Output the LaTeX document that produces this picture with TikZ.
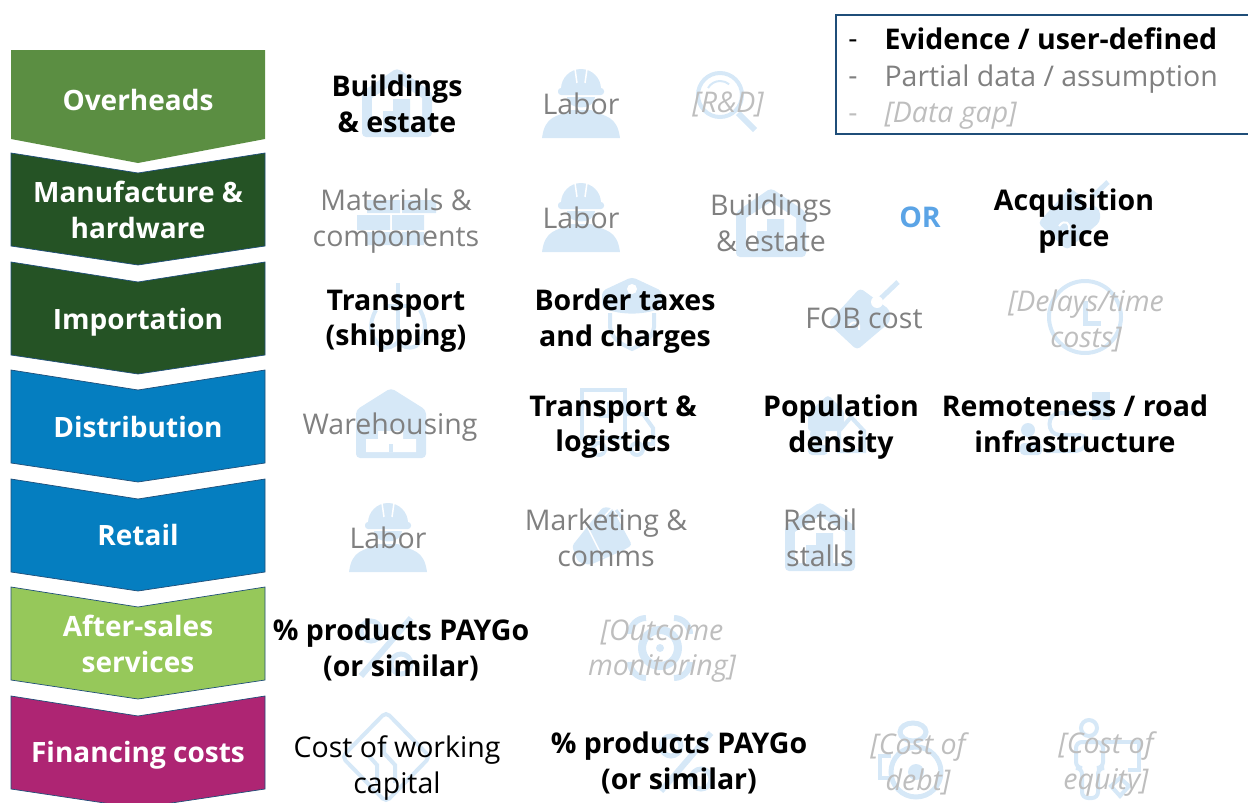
\documentclass[tikz,border=0pt]{standalone}
\usepackage{fontspec}
\setmainfont{Open Sans}
\usetikzlibrary{positioning, calc}
\definecolor{iconblue}{RGB}{214, 232, 247}
\definecolor{stagegreen}{RGB}{91, 142, 66}
\definecolor{stagedark}{RGB}{37, 83, 37}
\definecolor{stageblue}{RGB}{5, 126, 192}
\definecolor{stagelime}{RGB}{150, 200, 90}
\definecolor{stagepink}{RGB}{174, 37, 115}
\definecolor{edgeblue}{RGB}{31, 78, 121}
\definecolor{orblue}{RGB}{91, 164, 230}
\definecolor{partgrey}{RGB}{128, 128, 128}
\definecolor{gapgrey}{RGB}{190, 190, 190}
\tikzset{
  solid icon/.style={fill=iconblue, draw=none},
  line icon/.style={draw=iconblue, line width=4pt, fill=none},
  cut icon/.style={fill=white, draw=none},
  pics/iconhouse/.style={code={
    \fill[solid icon, rounded corners=4pt] (0,-35) -- (35,-11) -- (35,34) -- (-35,34) -- (-35,-11) -- cycle;
    \fill[cut icon] (0,-21) -- (25,-5) -- (25,26) -- (-25,26) -- (-25,-5) -- cycle;
    \fill[solid icon] (-14,26) -- (-14,8) -- (-4,8) -- (-4,-4) -- (13,-4) -- (13,26) -- cycle;
  }},
  pics/iconworker/.style={code={
    \fill[solid icon] (-20,-14) arc[start angle=180, end angle=360, radius=20] -- cycle;
    \fill[solid icon, rounded corners=3pt] (-23,-15) rectangle (23,-8);
    \draw[white, line width=1.5pt] (-6,-34) -- (-4,-20) (6,-34) -- (4,-20);
    \fill[solid icon] (-14,-6) -- (14,-6) .. controls (14,8) and (-14,8) .. cycle;
    \fill[solid icon] (-39,35) .. controls (-36,12) and (-24,14) .. (-10,7) -- (10,7) .. controls (24,14) and (36,12) .. (39,35) -- cycle;
  }},
  pics/iconglass/.style={code={
    \draw[line icon] (-8,-8) circle[radius=22];
    \draw[line icon, line width=2pt] (-20,-15) arc[start angle=210, end angle=310, radius=14];
    \draw[line icon, line width=6pt] (10,10) -- (27,27);
  }},
  pics/iconbricks/.style={code={
    \fill[solid icon] (-30,-22) rectangle (3,-9) (5,-22) rectangle (39,-9);
    \fill[solid icon] (-40,-7) rectangle (-7,8) (-5,-7) rectangle (27,8);
    \fill[solid icon] (-30,10) rectangle (3,23) (5,10) rectangle (27,23);
  }},
  pics/icontag/.style={code={
    \fill[solid icon, rounded corners=4pt] (-3,-28) -- (27,-6) -- (27,6) -- (-6,34) -- (-35,7) -- cycle;
    \draw[line icon, line width=5pt] (14,-14) -- (35,-34);
    \fill[cut icon] (14,-14) circle[radius=6];
    \draw[white, line width=2pt] (-14,10) .. controls (-8,2) and (-2,8) .. (-4,14);
  }},
  pics/iconship/.style={code={
    \draw[line icon] (0,-33) -- (0,26);
    \draw[line icon] (-14,-10) -- (14,-10);
    \draw[line icon] (-22,-6) .. controls (-30,8) and (-28,20) .. (-18,30) .. controls (-10,34) and (-4,30) .. (0,26) .. controls (4,30) and (10,34) .. (18,30) .. controls (28,20) and (30,8) .. (22,-6);
  }},
  pics/iconshield/.style={code={
    \fill[solid icon, rounded corners=4pt] (-30,-22) -- (0,-36) -- (30,-22) -- (30,-5) .. controls (10,2) and (-10,2) .. (-30,-5) -- cycle;
    \fill[cut icon] (0,-24) circle[radius=5];
    \draw[line icon] (-22,0) -- (-22,14) .. controls (-20,28) and (-8,32) .. (0,36) .. controls (8,32) and (20,28) .. (22,14) -- (22,0);
  }},
  pics/iconclock/.style={code={
    \draw[line icon] (0,0) circle[radius=36];
    \draw[line icon, line width=5pt] (0,-16) -- (0,6) -- (16,6);
  }},
  pics/iconstore/.style={code={
    \fill[solid icon, rounded corners=4pt] (0,-35) -- (35,-13) -- (35,35) -- (-35,35) -- (-35,-13) -- cycle;
    \fill[cut icon] (-25,16) rectangle (25,29) (-13,8) rectangle (12,16);
    \fill[solid icon] (-2,21) rectangle (2,29);
  }},
  pics/icontruck/.style={code={
    \draw[line icon] (-35,16) -- (-35,-32) -- (8,-32) -- (8,16) -- cycle;
    \draw[line icon] (8,-8) -- (26,-8) -- (36,6) -- (36,22) -- (26,22);
    \draw[line icon] (-8,-20) -- (-8,-6) -- (-18,-6);
    \draw[line icon] (-18,27) circle[radius=6] (20,27) circle[radius=6];
  }},
  pics/iconpeople/.style={code={
    \fill[solid icon, rounded corners=3pt] (-28,-12) -- (-8,-30) -- (8,-14) -- (8,6) -- (-28,6) -- cycle;
    \draw[line icon, fill=white] (3,6) -- (15,-8) -- (28,6) -- (28,26) -- (3,26) -- cycle;
    \fill[solid icon] (-18,9) circle[radius=8];
    \fill[solid icon, rounded corners=4pt] (-28,30) -- (-28,20) -- (-8,20) -- (-8,30) -- cycle;
  }},
  pics/iconroad/.style={code={
    \fill[solid icon] (-36,7) circle[radius=7];
    \fill[solid icon, rounded corners=4pt] (-44,32) -- (-44,20) -- (-22,20) -- (-22,32) -- cycle;
    \draw[line icon] (28,-10) -- (-4,-10) .. controls (-18,-10) and (-18,12) .. (-4,12) -- (16,12) .. controls (26,14) and (24,26) .. (12,28) -- (-18,28);
    \fill[solid icon] (28,-31) rectangle (46,-3);
    \fill[solid icon] (18,-12) rectangle (44,-9);
  }},
  pics/iconhorn/.style={code={
    \fill[solid icon, rounded corners=3pt] (-30,10) -- (1,-29) -- (10,-28) -- (30,9) -- (22,14) -- (-12,29) -- (-24,26) -- cycle;
    \draw[white, line width=1.5pt] (-14,-8) -- (1,22) (10,-28) -- (-1,-16);
    \draw[line icon, line width=3pt] (14,-26) -- (20,-18);
  }},
  pics/iconpercent/.style={code={
    \draw[line icon, line width=5pt] (-15,-16) circle[radius=10] (15,17) circle[radius=10];
    \draw[line icon, line width=6pt] (-25,29) -- (25,-29);
  }},
  pics/icontarget/.style={code={
    \draw[line icon, line width=8pt] (0,0) circle[radius=18];
    \fill[solid icon] (0,0) circle[radius=4];
    \draw[line icon, line width=6pt] (-30,-14) arc[start angle=180, end angle=270, radius=16];
    \draw[line icon, line width=6pt] (14,-30) arc[start angle=270, end angle=360, radius=16];
    \draw[line icon, line width=6pt] (30,14) arc[start angle=0, end angle=90, radius=16];
    \draw[line icon, line width=6pt] (-14,30) arc[start angle=90, end angle=180, radius=16];
  }},
  pics/iconsign/.style={code={
    \draw[line icon, rounded corners=5pt] (0,-45) -- (44,0) -- (0,45) -- (-44,0) -- cycle;
    \draw[line icon] (-9,26) -- (-9,8) -- (-18,-2) (9,26) -- (9,8) -- (-2,-4) -- (-2,-14);
  }},
  pics/iconbag/.style={code={
    \draw[line icon, line width=5pt] (0,-28) ellipse[x radius=13, y radius=9];
    \draw[line icon, line width=5pt] (3,12) ellipse[x radius=25, y radius=25];
    \draw[line icon] (-22,-4) -- (-33,-4) -- (-33,18) -- (-22,18);
    \fill[solid icon] (3,12) circle[radius=8];
  }},
  pics/iconfigure/.style={code={
    \draw[line icon] (-17,-32) circle[radius=8];
    \draw[line icon, rounded corners=6pt] (-3,-18) -- (-30,-18) -- (-30,8) -- (-24,8) -- (-24,38) -- (-8,38) -- (-8,8) -- (-3,8) -- cycle;
    \draw[line icon] (-3,-18) -- (33,-18) -- (33,10) -- (22,10);
    \draw[line icon] (5,26) -- (14,36) -- (23,26) -- (14,18) -- cycle;
  }},
  stage/.style={draw=edgeblue, line width=0.7pt},
  stagetext/.style={text=white, font=\fontsize{28}{35.5}\selectfont\bfseries, align=center},
  evid/.style={text=black, font=\fontsize{28.5}{35.5}\selectfont\bfseries, align=center},
  partial/.style={text=partgrey, font=\fontsize{28.5}{35.5}\selectfont, align=center},
  gap/.style={text=gapgrey, font=\fontsize{28.5}{35.5}\selectfont\itshape, align=center},
  plain/.style={text=black, font=\fontsize{28.5}{35.5}\selectfont, align=center}
}

\begin{document}
\begin{tikzpicture}[x=1pt, y=-1pt]
  \useasboundingbox (0,0) rectangle (1248,803);

  % Stages
  \fill[stagegreen] (11,50) -- (265,50) -- (265,139) -- (138,163) -- (11,139) -- cycle;
  \foreach \ytop/\col in {153/stagedark, 262/stagedark, 370/stageblue, 479/stageblue, 587/stagelime, 696/stagepink}
    \draw[stage, fill=\col] (11,\ytop) -- (138,\ytop+20) -- (265,\ytop) -- (265,\ytop+93) -- (138,\ytop+112) -- (11,\ytop+93) -- cycle;

  \node[stagetext] (overheads) at (138,100) {Overheads};
  \node[stagetext] (manufacture) at (138,210) {Manufacture \&\\hardware};
  \node[stagetext] (importation) at (138,322) {Importation};
  \node[stagetext] (distribution) at (138,427) {Distribution};
  \node[stagetext] (retail) at (138,535) {Retail};
  \node[stagetext] (aftersales) at (138,644) {After-sales\\services};
  \node[stagetext] (financing) at (138,755) {Financing costs};

  % Icons behind the labels
  \pic (ic1) at (397,103) {iconhouse};
  \pic (ic2) at (581,103) {iconworker};
  \pic (ic3) at (728,103) {iconglass};
  \pic (ic4) at (397,222) {iconbricks};
  \pic (ic5) at (581,217) {iconworker};
  \pic (ic6) at (771,223) {iconhouse};
  \pic (ic7) at (1073,216) {icontag};
  \pic (ic8) at (398,316) {iconship};
  \pic (ic9) at (632,313) {iconshield};
  \pic (ic10) at (863,316) {icontag};
  \pic (ic11) at (1085,317) {iconclock};
  \pic (ic12) at (391,423) {iconstore};
  \pic (ic13) at (617,422) {icontruck};
  \pic (ic14) at (836,425) {iconpeople};
  \pic (ic15) at (1064,423) {iconroad};
  \pic (ic16) at (388,537) {iconworker};
  \pic (ic17) at (602,536) {iconhorn};
  \pic (ic18) at (820,537) {iconhouse};
  \pic (ic19) at (386,647) {iconpercent};
  \pic (ic20) at (660,648) {icontarget};
  \pic (ic21) at (386,757) {iconsign};
  \pic (ic22) at (686,762) {iconpercent};
  \pic (ic23) at (913,760) {iconbag};
  \pic (ic24) at (1106,760) {iconfigure};

  % Row labels
  \node[evid] (b1) at (397,104) {Buildings\\\& estate};
  \node[partial] (b2) at (581,104) {Labor};
  \node[gap] (b3) at (728,104) {[R\&D]};

  \node[partial] (m1) at (396,221) {Materials \&\\components};
  \node[partial] (m2) at (581,218) {Labor};
  \node[partial] (m3) at (771,223) {Buildings\\\& estate};
  \node[text=orblue, font=\fontsize{28.5}{35.5}\selectfont\bfseries] (m4) at (920,217) {OR};
  \node[evid] (m5) at (1074,221) {Acquisition\\price};

  \node[evid] (i1) at (396,321) {Transport\\(shipping)};
  \node[evid] (i2) at (625,321) {Border taxes\\and charges};
  \node[partial] (i3) at (864,318) {FOB cost};
  \node[gap] (i4) at (1086,321) {[Delays/time\\costs]};

  \node[partial] (d1) at (390,427) {Warehousing};
  \node[evid] (d2) at (613,427) {Transport \&\\logistics};
  \node[evid] (d3) at (841,427) {Population\\density};
  \node[evid] (d4) at (1075,424) {Remoteness / road\\infrastructure};

  \node[partial] (r1) at (388,538) {Labor};
  \node[partial] (r2) at (606,538) {Marketing \&\\comms};
  \node[partial] (r3) at (820,538) {Retail\\stalls};

  \node[evid] (a1) at (401,650) {\% products PAYGo\\(or similar)};
  \node[gap] (a2) at (662,651) {[Outcome\\monitoring]};

  \node[plain] (f1) at (397,768) {Cost of working\\capital};
  \node[evid] (f2) at (679,763) {\% products PAYGo\\(or similar)};
  \node[gap] (f3) at (918,764) {[Cost of\\debt]};
  \node[gap] (f4) at (1106,764) {[Cost of\\equity]};

  % Legend
  \node[draw=edgeblue, line width=1.2pt, minimum width=430pt, minimum height=119pt, inner sep=0pt] (legend) at (1051,74.5) {};
  \node[evid, anchor=base west] (l1) at (881,49) {Evidence / user-defined};
  \node[partial, anchor=base west] (l2) at (881,86) {Partial data / assumption};
  \node[gap, anchor=base west] (l3) at (881,122) {[Data gap]};
  \node[plain, anchor=base] (ld1) at (853,48) {-};
  \node[partial, anchor=base] (ld2) at (853,85) {-};
  \node[gap, font=\fontsize{28.5}{35.5}\selectfont, anchor=base] (ld3) at (853,122) {-};
\end{tikzpicture}
\end{document}
